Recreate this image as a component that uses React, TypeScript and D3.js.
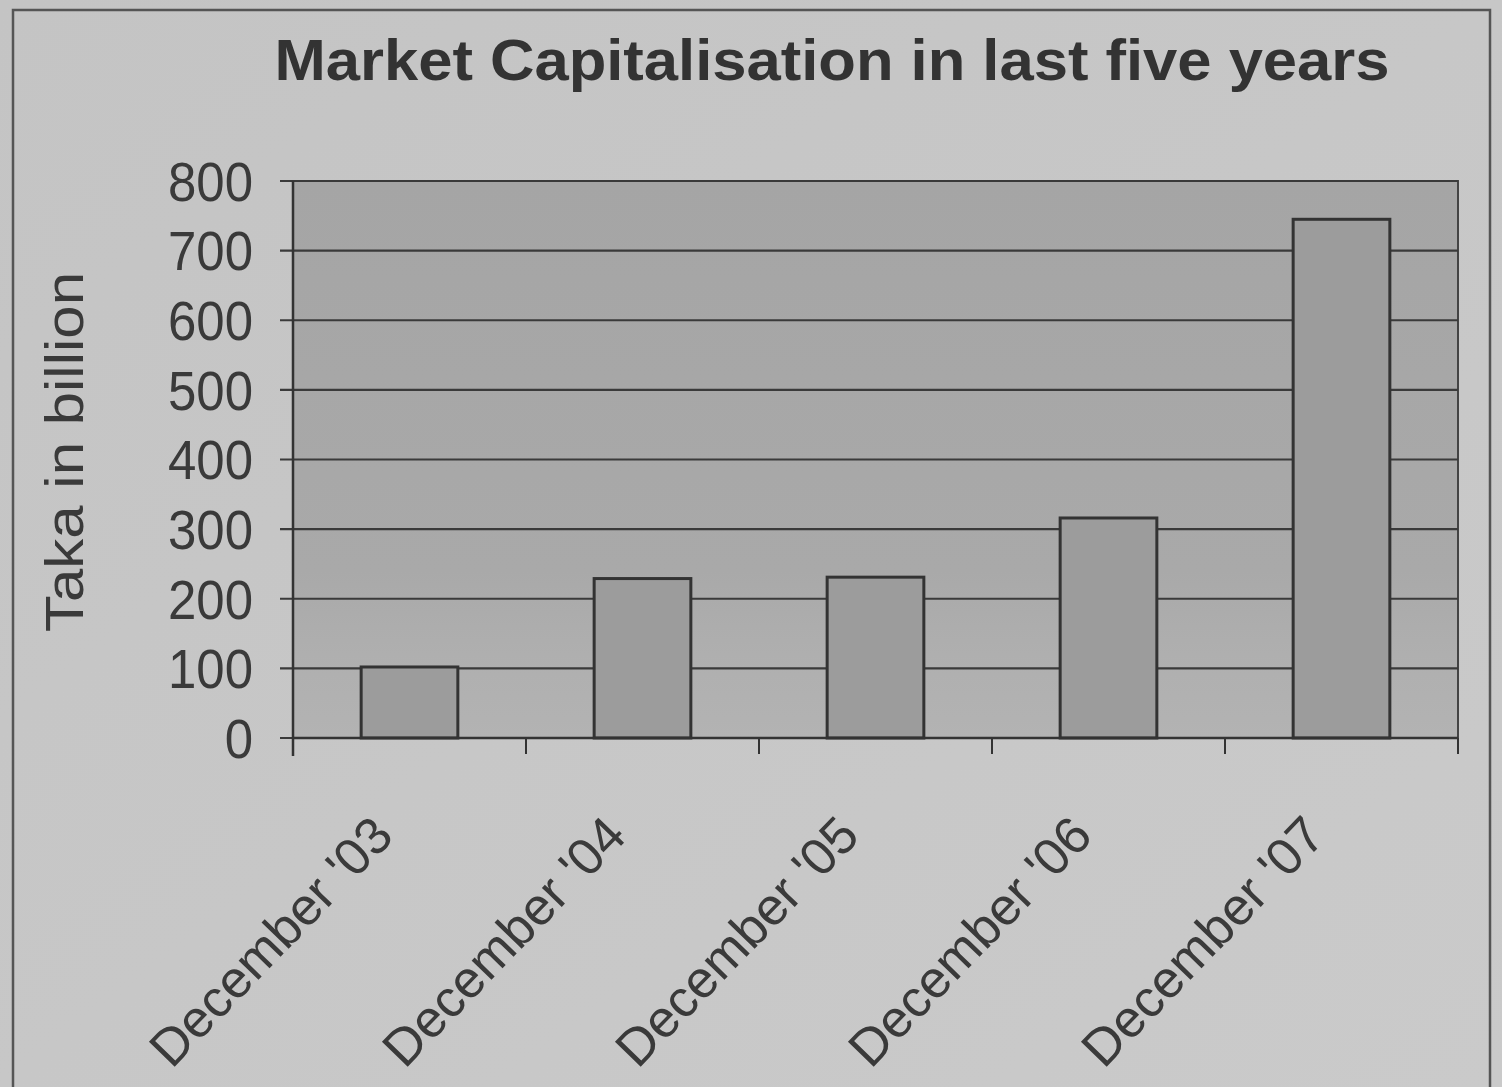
import React from "react";
import * as d3 from "d3";

const categories = ["December '03", "December '04", "December '05", "December '06", "December '07"];
const values = [102, 229, 231, 316, 745];
const yTicks = [0, 100, 200, 300, 400, 500, 600, 700, 800];
const title = "Market Capitalisation in last five years";
const yLabel = "Taka in billion";

const W = 1502;
const H = 1087;
const plot = { left: 293, right: 1458, top: 181, bottom: 738 };
const FONT = "'Liberation Sans', Arial, Helvetica, sans-serif";
const INK = "#3a3a3a";

export default function App() {
  const x = d3.scaleBand<string>().domain(categories).range([plot.left, plot.right]).padding(0);
  const y = d3.scaleLinear().domain([0, 800]).range([plot.bottom, plot.top]);
  const barW = x.bandwidth() * 0.415;

  return (
    <svg
      width={W}
      height={H}
      viewBox={`0 0 ${W} ${H}`}
      style={{ position: "absolute", left: 0, top: 0, display: "block" }}
    >
      <defs>
        <linearGradient id="pageBg" x1="0" y1="0" x2="1" y2="1">
          <stop offset="0" stopColor="#c4c4c4" />
          <stop offset="1" stopColor="#cacaca" />
        </linearGradient>
        <linearGradient id="plotBg" x1="0" y1="0" x2="0" y2="1">
          <stop offset="0" stopColor="#a5a5a5" />
          <stop offset="0.7" stopColor="#a9a9a9" />
          <stop offset="0.85" stopColor="#afafaf" />
          <stop offset="1" stopColor="#b3b3b3" />
        </linearGradient>
      </defs>
      <rect x={0} y={0} width={W} height={H} fill="url(#pageBg)" />
      <rect x={13} y={10} width={1477} height={1090} fill="none" stroke="#555" strokeWidth={2.5} />

      {/* plot area */}
      <rect
        x={plot.left}
        y={plot.top}
        width={plot.right - plot.left}
        height={plot.bottom - plot.top}
        fill="url(#plotBg)"
        stroke="#444"
        strokeWidth={2}
      />

      {/* gridlines */}
      {yTicks.map((t) => (
        <line key={"g" + t} x1={plot.left - 13} x2={plot.right} y1={y(t)} y2={y(t)} stroke="#3a3a3a" strokeWidth={2.2} />
      ))}

      {/* bars */}
      {categories.map((c, i) => {
        const cx = (x(c) as number) + x.bandwidth() / 2;
        return (
          <rect
            key={c}
            x={cx - barW / 2}
            y={y(values[i])}
            width={barW}
            height={y(0) - y(values[i])}
            fill="#9c9c9c"
            stroke="#333"
            strokeWidth={3}
          />
        );
      })}

      {/* axes */}
      <line x1={plot.left} x2={plot.left} y1={plot.top} y2={plot.bottom + 18} stroke="#333" strokeWidth={2.5} />
      <line x1={plot.left} x2={plot.right} y1={plot.bottom} y2={plot.bottom} stroke="#333" strokeWidth={2.5} />
      {categories.map((c) => (
        <line key={"t" + c} x1={x(c) as number} x2={x(c) as number} y1={plot.bottom} y2={plot.bottom + 16} stroke="#333" strokeWidth={2} />
      ))}
      <line x1={plot.right} x2={plot.right} y1={plot.bottom} y2={plot.bottom + 16} stroke="#333" strokeWidth={2} />

      {/* y tick labels */}
      {yTicks.map((t) => (
        <text
          key={"l" + t}
          x={253}
          y={y(t)}
          dy="0.36em"
          textAnchor="end"
          fontFamily={FONT}
          fontSize={52}
          fill={INK}
          transform={`translate(253 ${y(t)}) scale(0.98 1.06) translate(-253 ${-y(t)})`}
        >
          {t}
        </text>
      ))}

      {/* x labels */}
      {categories.map((c) => {
        const cx = (x(c) as number) + x.bandwidth() / 2;
        return (
          <text
            key={"x" + c}
            transform={`translate(${cx - 14} ${838}) rotate(-46)`}
            textAnchor="end"
            fontFamily={FONT}
            fontSize={52}
            fill={INK}
          >
            {c}
          </text>
        );
      })}

      {/* y axis label */}
      <text
        transform={`translate(83 452) rotate(-90)`}
        textAnchor="middle"
        fontFamily={FONT}
        fontSize={54}
        fill={INK}
        textLength={360}
        lengthAdjust="spacingAndGlyphs"
      >
        {yLabel}
      </text>

      {/* title */}
      <text
        x={832}
        y={80}
        textAnchor="middle"
        fontFamily={FONT}
        fontWeight="bold"
        fontSize={57}
        fill="#333"
        textLength={1115}
        lengthAdjust="spacingAndGlyphs"
      >
        {title}
      </text>
    </svg>
  );
}
